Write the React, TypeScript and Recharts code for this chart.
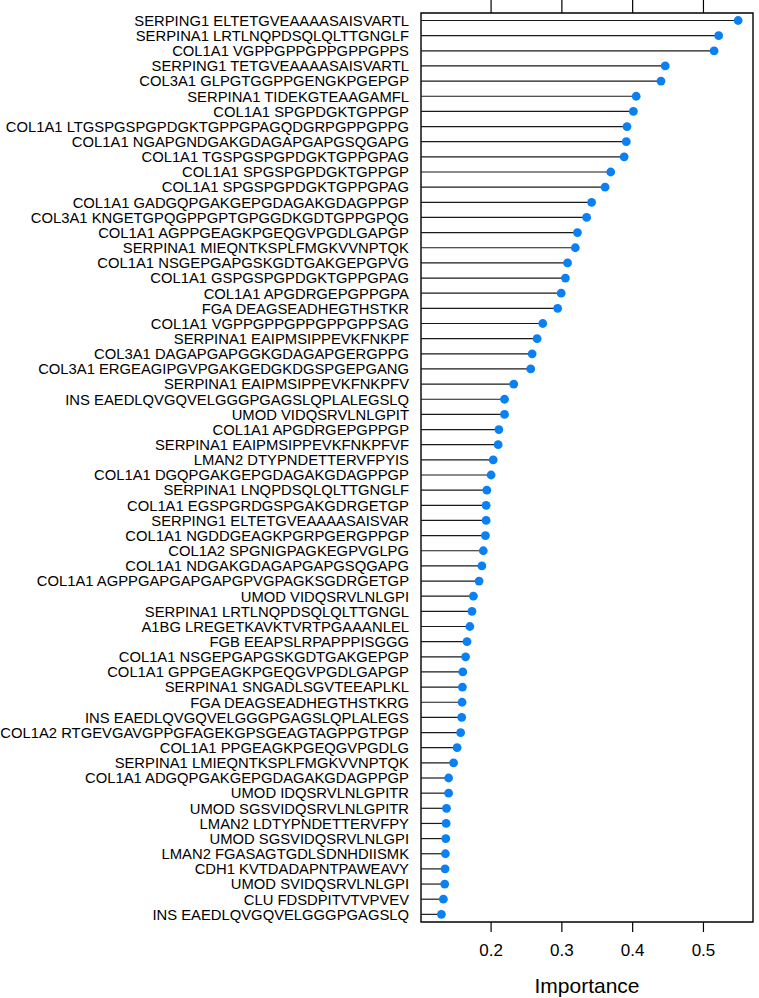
import React from "react";
import { ComposedChart, Bar, XAxis, YAxis, ReferenceArea } from "recharts";

const peptides: string[] = [
  "SERPING1 ELTETGVEAAAASAISVARTL",
  "SERPINA1 LRTLNQPDSQLQLTTGNGLF",
  "COL1A1 VGPPGPPGPPGPPGPPS",
  "SERPING1 TETGVEAAAASAISVARTL",
  "COL3A1 GLPGTGGPPGENGKPGEPGP",
  "SERPINA1 TIDEKGTEAAGAMFL",
  "COL1A1 SPGPDGKTGPPGP",
  "COL1A1 LTGSPGSPGPDGKTGPPGPAGQDGRPGPPGPPG",
  "COL1A1 NGAPGNDGAKGDAGAPGAPGSQGAPG",
  "COL1A1 TGSPGSPGPDGKTGPPGPAG",
  "COL1A1 SPGSPGPDGKTGPPGP",
  "COL1A1 SPGSPGPDGKTGPPGPAG",
  "COL1A1 GADGQPGAKGEPGDAGAKGDAGPPGP",
  "COL3A1 KNGETGPQGPPGPTGPGGDKGDTGPPGPQG",
  "COL1A1 AGPPGEAGKPGEQGVPGDLGAPGP",
  "SERPINA1 MIEQNTKSPLFMGKVVNPTQK",
  "COL1A1 NSGEPGAPGSKGDTGAKGEPGPVG",
  "COL1A1 GSPGSPGPDGKTGPPGPAG",
  "COL1A1 APGDRGEPGPPGPA",
  "FGA DEAGSEADHEGTHSTKR",
  "COL1A1 VGPPGPPGPPGPPGPPSAG",
  "SERPINA1 EAIPMSIPPEVKFNKPF",
  "COL3A1 DAGAPGAPGGKGDAGAPGERGPPG",
  "COL3A1 ERGEAGIPGVPGAKGEDGKDGSPGEPGANG",
  "SERPINA1 EAIPMSIPPEVKFNKPFV",
  "INS EAEDLQVGQVELGGGPGAGSLQPLALEGSLQ",
  "UMOD VIDQSRVLNLGPIT",
  "COL1A1 APGDRGEPGPPGP",
  "SERPINA1 EAIPMSIPPEVKFNKPFVF",
  "LMAN2 DTYPNDETTERVFPYIS",
  "COL1A1 DGQPGAKGEPGDAGAKGDAGPPGP",
  "SERPINA1 LNQPDSQLQLTTGNGLF",
  "COL1A1 EGSPGRDGSPGAKGDRGETGP",
  "SERPING1 ELTETGVEAAAASAISVAR",
  "COL1A1 NGDDGEAGKPGRPGERGPPGP",
  "COL1A2 SPGNIGPAGKEGPVGLPG",
  "COL1A1 NDGAKGDAGAPGAPGSQGAPG",
  "COL1A1 AGPPGAPGAPGAPGPVGPAGKSGDRGETGP",
  "UMOD VIDQSRVLNLGPI",
  "SERPINA1 LRTLNQPDSQLQLTTGNGL",
  "A1BG LREGETKAVKTVRTPGAAANLEL",
  "FGB EEAPSLRPAPPPISGGG",
  "COL1A1 NSGEPGAPGSKGDTGAKGEPGP",
  "COL1A1 GPPGEAGKPGEQGVPGDLGAPGP",
  "SERPINA1 SNGADLSGVTEEAPLKL",
  "FGA DEAGSEADHEGTHSTKRG",
  "INS EAEDLQVGQVELGGGPGAGSLQPLALEGS",
  "COL1A2 RTGEVGAVGPPGFAGEKGPSGEAGTAGPPGTPGP",
  "COL1A1 PPGEAGKPGEQGVPGDLG",
  "SERPINA1 LMIEQNTKSPLFMGKVVNPTQK",
  "COL1A1 ADGQPGAKGEPGDAGAKGDAGPPGP",
  "UMOD IDQSRVLNLGPITR",
  "UMOD SGSVIDQSRVLNLGPITR",
  "LMAN2 LDTYPNDETTERVFPY",
  "UMOD SGSVIDQSRVLNLGPI",
  "LMAN2 FGASAGTGDLSDNHDIISMK",
  "CDH1 KVTDADAPNTPAWEAVY",
  "UMOD SVIDQSRVLNLGPI",
  "CLU FDSDPITVTVPVEV",
  "INS EAEDLQVGQVELGGGPGAGSLQ",
];

const importance: number[] = [
  0.549, 0.5215, 0.515, 0.446, 0.44, 0.405, 0.401, 0.392, 0.391, 0.388,
  0.369, 0.361, 0.342, 0.335, 0.322, 0.319, 0.308, 0.305, 0.299, 0.294,
  0.273, 0.265, 0.258, 0.256, 0.232, 0.219, 0.219, 0.211, 0.21, 0.203,
  0.2, 0.194, 0.193, 0.193, 0.192, 0.189, 0.187, 0.183, 0.175, 0.173,
  0.17, 0.166, 0.164, 0.16, 0.1595, 0.159, 0.1585, 0.157, 0.152, 0.147,
  0.14, 0.14, 0.137, 0.1365, 0.136, 0.1355, 0.135, 0.1345, 0.1326, 0.1298,
];

const xTicks: number[] = [0.2, 0.3, 0.4, 0.5];
const xDomain: [number, number] = [0.101, 0.57];

const data = peptides.map((name, i) => ({ name, value: importance[i] }));

const FONT = '"Liberation Sans", Arial, Helvetica, sans-serif';

const Lollipop = (props: any) => {
  const { x, y, width, height } = props;
  const cy = y + height / 2;
  return (
    <g>
      <line x1={x} y1={cy} x2={x + width} y2={cy} stroke="#1a1a1a" strokeWidth={1.2} />
      <circle cx={x + width} cy={cy} r={4.4} fill="#0a80f5" />
    </g>
  );
};

export default function App() {
  return (
    <div style={{ position: "absolute", left: 0, top: 0 }}>
      <ComposedChart
        width={759}
        height={998}
        data={data}
        layout="vertical"
        margin={{ top: 0, right: 6, bottom: 0, left: 0 }}
        barCategoryGap={0}
      >
        <XAxis
          xAxisId="top"
          orientation="top"
          type="number"
          domain={xDomain}
          allowDataOverflow
          ticks={xTicks}
          tickFormatter={() => ""}
          tickSize={13}
          height={13}
          axisLine={false}
          tickLine={{ stroke: "#000", strokeWidth: 1.2 }}
        />
        <XAxis
          xAxisId="bottom"
          orientation="bottom"
          type="number"
          domain={xDomain}
          allowDataOverflow
          ticks={xTicks}
          tickSize={10}
          tickMargin={12}
          height={76}
          axisLine={false}
          tickLine={{ stroke: "#000", strokeWidth: 1.2 }}
          tick={{ fontSize: 17, fill: "#000", fontFamily: FONT }}
          label={{
            value: "Importance",
            position: "insideBottom",
            offset: 5,
            style: { fontSize: 21, fill: "#000", fontFamily: FONT },
          }}
        />
        <YAxis
          type="category"
          dataKey="name"
          width={421}
          interval={0}
          tickLine={false}
          axisLine={false}
          tickSize={0}
          tickMargin={12}
          tick={{ fontSize: 14.8, fill: "#000", fontFamily: FONT }}
        />
        <ReferenceArea
          xAxisId="bottom"
          x1={xDomain[0]}
          x2={xDomain[1]}
          fill="none"
          fillOpacity={0}
          stroke="#000"
          strokeWidth={1.4}
          ifOverflow="visible"
        />
        <Bar
          xAxisId="bottom"
          dataKey="value"
          isAnimationActive={false}
          shape={Lollipop}
        />
      </ComposedChart>
    </div>
  );
}
